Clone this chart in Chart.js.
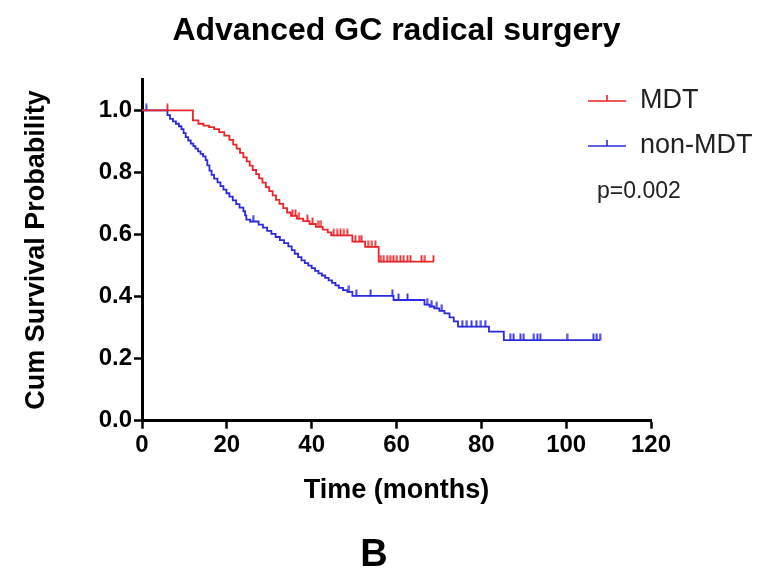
<!DOCTYPE html>
<html>
<head>
<meta charset="utf-8">
<style>
  html, body { margin: 0; padding: 0; background: #fff; }
  #wrap { position: relative; width: 761px; height: 577px; }
</style>
<script src="https://cdn.jsdelivr.net/npm/chart.js@4/dist/chart.umd.min.js"></script>
</head>
<body>
<div id="wrap"><canvas id="c" width="761" height="577"></canvas></div>
<script>
// ---- Data ----
const seriesNames = ['MDT', 'non-MDT'];

// MDT: time of each step (months) and survival after the step
const mdtTimes = [0, 12.0, 13.3, 14.5, 15.8, 17.0, 18.2, 19.4, 20.6, 21.5, 22.3, 23.1, 23.9, 24.7, 25.4, 26.1, 26.9, 27.6, 28.4, 29.2, 30.0, 30.8, 31.6, 32.4, 33.3, 34.2, 35.1, 36.5, 38.0, 39.5, 41.0, 42.6, 43.8, 44.6, 49.6, 52.6, 55.8, 68.7];
const mdtSurv  = [1.0, 0.968, 0.957, 0.951, 0.946, 0.940, 0.930, 0.919, 0.905, 0.890, 0.877, 0.863, 0.849, 0.836, 0.822, 0.808, 0.795, 0.781, 0.767, 0.753, 0.740, 0.726, 0.712, 0.699, 0.685, 0.671, 0.660, 0.651, 0.643, 0.634, 0.625, 0.616, 0.607, 0.597, 0.577, 0.560, 0.513, 0.513];
const mdtCensored = [6.0, 35.5, 36.2, 37.0, 39.0, 40.2, 41.5, 42.2, 45.2, 46.0, 46.8, 47.6, 48.4, 50.3, 51.2, 51.8, 53.3, 54.2, 55.0, 56.3, 57.0, 57.8, 58.5, 59.3, 60.1, 60.9, 61.7, 62.6, 63.3, 65.9, 66.7, 68.7];

// non-MDT
const nonTimes = [0, 6.0, 6.6, 7.3, 8.0, 8.7, 9.3, 9.8, 10.3, 10.9, 11.5, 12.1, 12.6, 13.2, 13.8, 14.4, 15.0, 15.4, 15.9, 16.4, 17.0, 17.8, 18.5, 19.2, 19.9, 20.6, 21.4, 22.2, 23.0, 23.9, 24.3, 24.6, 25.5, 27.5, 28.5, 29.5, 30.5, 31.5, 32.5, 33.5, 34.5, 35.3, 36.0, 36.8, 37.6, 38.4, 39.2, 40.0, 40.8, 41.6, 42.4, 43.2, 44.0, 44.8, 45.6, 46.4, 47.4, 48.4, 49.6, 59.3, 66.6, 67.8, 68.9, 70.1, 71.3, 72.5, 73.5, 74.5, 81.8, 85.3, 108.0];
const nonSurv  = [1.0, 0.985, 0.973, 0.965, 0.957, 0.949, 0.940, 0.927, 0.914, 0.903, 0.893, 0.885, 0.877, 0.868, 0.860, 0.852, 0.840, 0.823, 0.806, 0.792, 0.780, 0.768, 0.756, 0.745, 0.733, 0.722, 0.710, 0.698, 0.687, 0.675, 0.662, 0.648, 0.642, 0.632, 0.622, 0.612, 0.602, 0.592, 0.582, 0.572, 0.562, 0.550, 0.538, 0.527, 0.517, 0.508, 0.500, 0.492, 0.483, 0.475, 0.468, 0.460, 0.452, 0.444, 0.436, 0.428, 0.421, 0.415, 0.402, 0.389, 0.374, 0.368, 0.362, 0.354, 0.346, 0.333, 0.320, 0.303, 0.287, 0.260, 0.260];
const nonCensored = [1.0, 26.2, 48.8, 50.5, 53.9, 59.0, 60.5, 62.6, 67.2, 68.3, 69.5, 70.7, 75.5, 76.6, 77.7, 78.8, 79.9, 80.9, 86.8, 87.6, 89.2, 90.0, 92.4, 93.2, 93.9, 100.2, 106.4, 107.2, 108.0];

const xTicks = [0, 20, 40, 60, 80, 100, 120];
const yTicks = [0.0, 0.2, 0.4, 0.6, 0.8, 1.0];
const pValueText = 'p=0.002';
const panelLetter = 'B';

// ---- Styling ----
const FONT = '"Liberation Sans", Arial, Helvetica, sans-serif';
const RED = '#e8262b';
const BLUE = '#2b2bdb';

function survivalAt(times, surv, t) {
  let s = surv[0];
  for (let i = 0; i < times.length; i++) { if (times[i] <= t) s = surv[i]; }
  return s;
}
function makeTick(color) {
  const c = document.createElement('canvas');
  c.width = 3; c.height = 14;
  const g = c.getContext('2d');
  g.fillStyle = color;
  g.fillRect(0.6, 0.5, 1.8, 7);
  return c;
}
const redTick = makeTick(RED);
const blueTick = makeTick(BLUE);

const curve = (times, surv) => times.map((t, i) => ({ x: t, y: surv[i] }));
const marks = (cens, times, surv) => cens.map(t => ({ x: t, y: survivalAt(times, surv, t) }));

const legendPlugin = {
  id: 'kmLegend',
  afterDraw(chart) {
    const ctx = chart.ctx;
    ctx.save();
    const items = [
      { name: seriesNames[0], color: RED, y: 101 },
      { name: seriesNames[1], color: BLUE, y: 146 }
    ];
    items.forEach(it => {
      ctx.strokeStyle = it.color;
      ctx.lineWidth = 1.6;
      ctx.beginPath();
      ctx.moveTo(588, it.y); ctx.lineTo(626, it.y);
      ctx.moveTo(607, it.y); ctx.lineTo(607, it.y - 6);
      ctx.stroke();
      ctx.fillStyle = '#222';
      ctx.font = '27px ' + FONT;
      ctx.textBaseline = 'middle';
      ctx.textAlign = 'left';
      ctx.fillText(it.name, 640, it.y);
    });
    ctx.font = '23px ' + FONT;
    ctx.fillStyle = '#222';
    ctx.textBaseline = 'middle';
    ctx.fillText(pValueText, 597, 192);
    // panel letter below the chart
    ctx.font = 'bold 38px ' + FONT;
    ctx.fillStyle = '#000';
    ctx.textAlign = 'center';
    ctx.textBaseline = 'middle';
    ctx.fillText(panelLetter, 374, 556);
    ctx.restore();
  }
};

new Chart(document.getElementById('c'), {
  type: 'scatter',
  data: {
    datasets: [
      { label: seriesNames[0], data: curve(mdtTimes, mdtSurv), showLine: true, stepped: true,
        borderColor: RED, borderWidth: 1.8, pointRadius: 0, fill: false },
      { label: seriesNames[1], data: curve(nonTimes, nonSurv), showLine: true, stepped: true,
        borderColor: BLUE, borderWidth: 1.8, pointRadius: 0, fill: false },
      { label: seriesNames[0] + ' censored', data: marks(mdtCensored, mdtTimes, mdtSurv), showLine: false,
        pointStyle: redTick, pointRadius: 3 },
      { label: seriesNames[1] + ' censored', data: marks(nonCensored, nonTimes, nonSurv), showLine: false,
        pointStyle: blueTick, pointRadius: 3 }
    ]
  },
  options: {
    responsive: false,
    animation: false,
    layout: { padding: { left: 0, right: 110, top: 0, bottom: 0 } },
    plugins: {
      legend: { display: false },
      tooltip: { enabled: false },
      title: {
        display: true, text: 'Advanced GC radical surgery', color: '#000', fullSize: false,
        font: { family: FONT, size: 32, weight: 'bold' }, padding: { top: 12, bottom: 29 }
      }
    },
    scales: {
      x: {
        type: 'linear', min: xTicks[0], max: xTicks[xTicks.length - 1],
        afterBuildTicks: s => { s.ticks = xTicks.map(v => ({ value: v })); },
        afterFit: s => { s.height = 156.3; },
        border: { display: true, color: '#000', width: 3 },
        grid: { drawOnChartArea: false, drawTicks: true, tickLength: 8, tickWidth: 2.5, tickColor: '#000', color: '#000' },
        ticks: { color: '#000', padding: 2, font: { family: FONT, size: 24, weight: 'bold' }, maxRotation: 0 },
        title: { display: true, text: 'Time (months)', color: '#000',
          font: { family: FONT, size: 27, weight: 'bold' }, padding: { top: 0, bottom: 70.5 } }
      },
      y: {
        type: 'linear', min: 0, max: 1.1,
        afterBuildTicks: s => { s.ticks = yTicks.map(v => ({ value: v })); },
        afterFit: s => { s.width = 142; },
        border: { display: true, color: '#000', width: 3 },
        grid: { drawOnChartArea: false, drawTicks: true, tickLength: 8, tickWidth: 2.5, tickColor: '#000', color: '#000' },
        ticks: { color: '#000', padding: 2, font: { family: FONT, size: 24, weight: 'bold' },
          callback: v => Number(v).toFixed(1) },
        title: { display: true, text: 'Cum Survival Probability', color: '#000',
          font: { family: FONT, size: 27, weight: 'bold' }, padding: { top: 20, bottom: 0 } }
      }
    }
  },
  plugins: [legendPlugin]
});
</script>
</body>
</html>
